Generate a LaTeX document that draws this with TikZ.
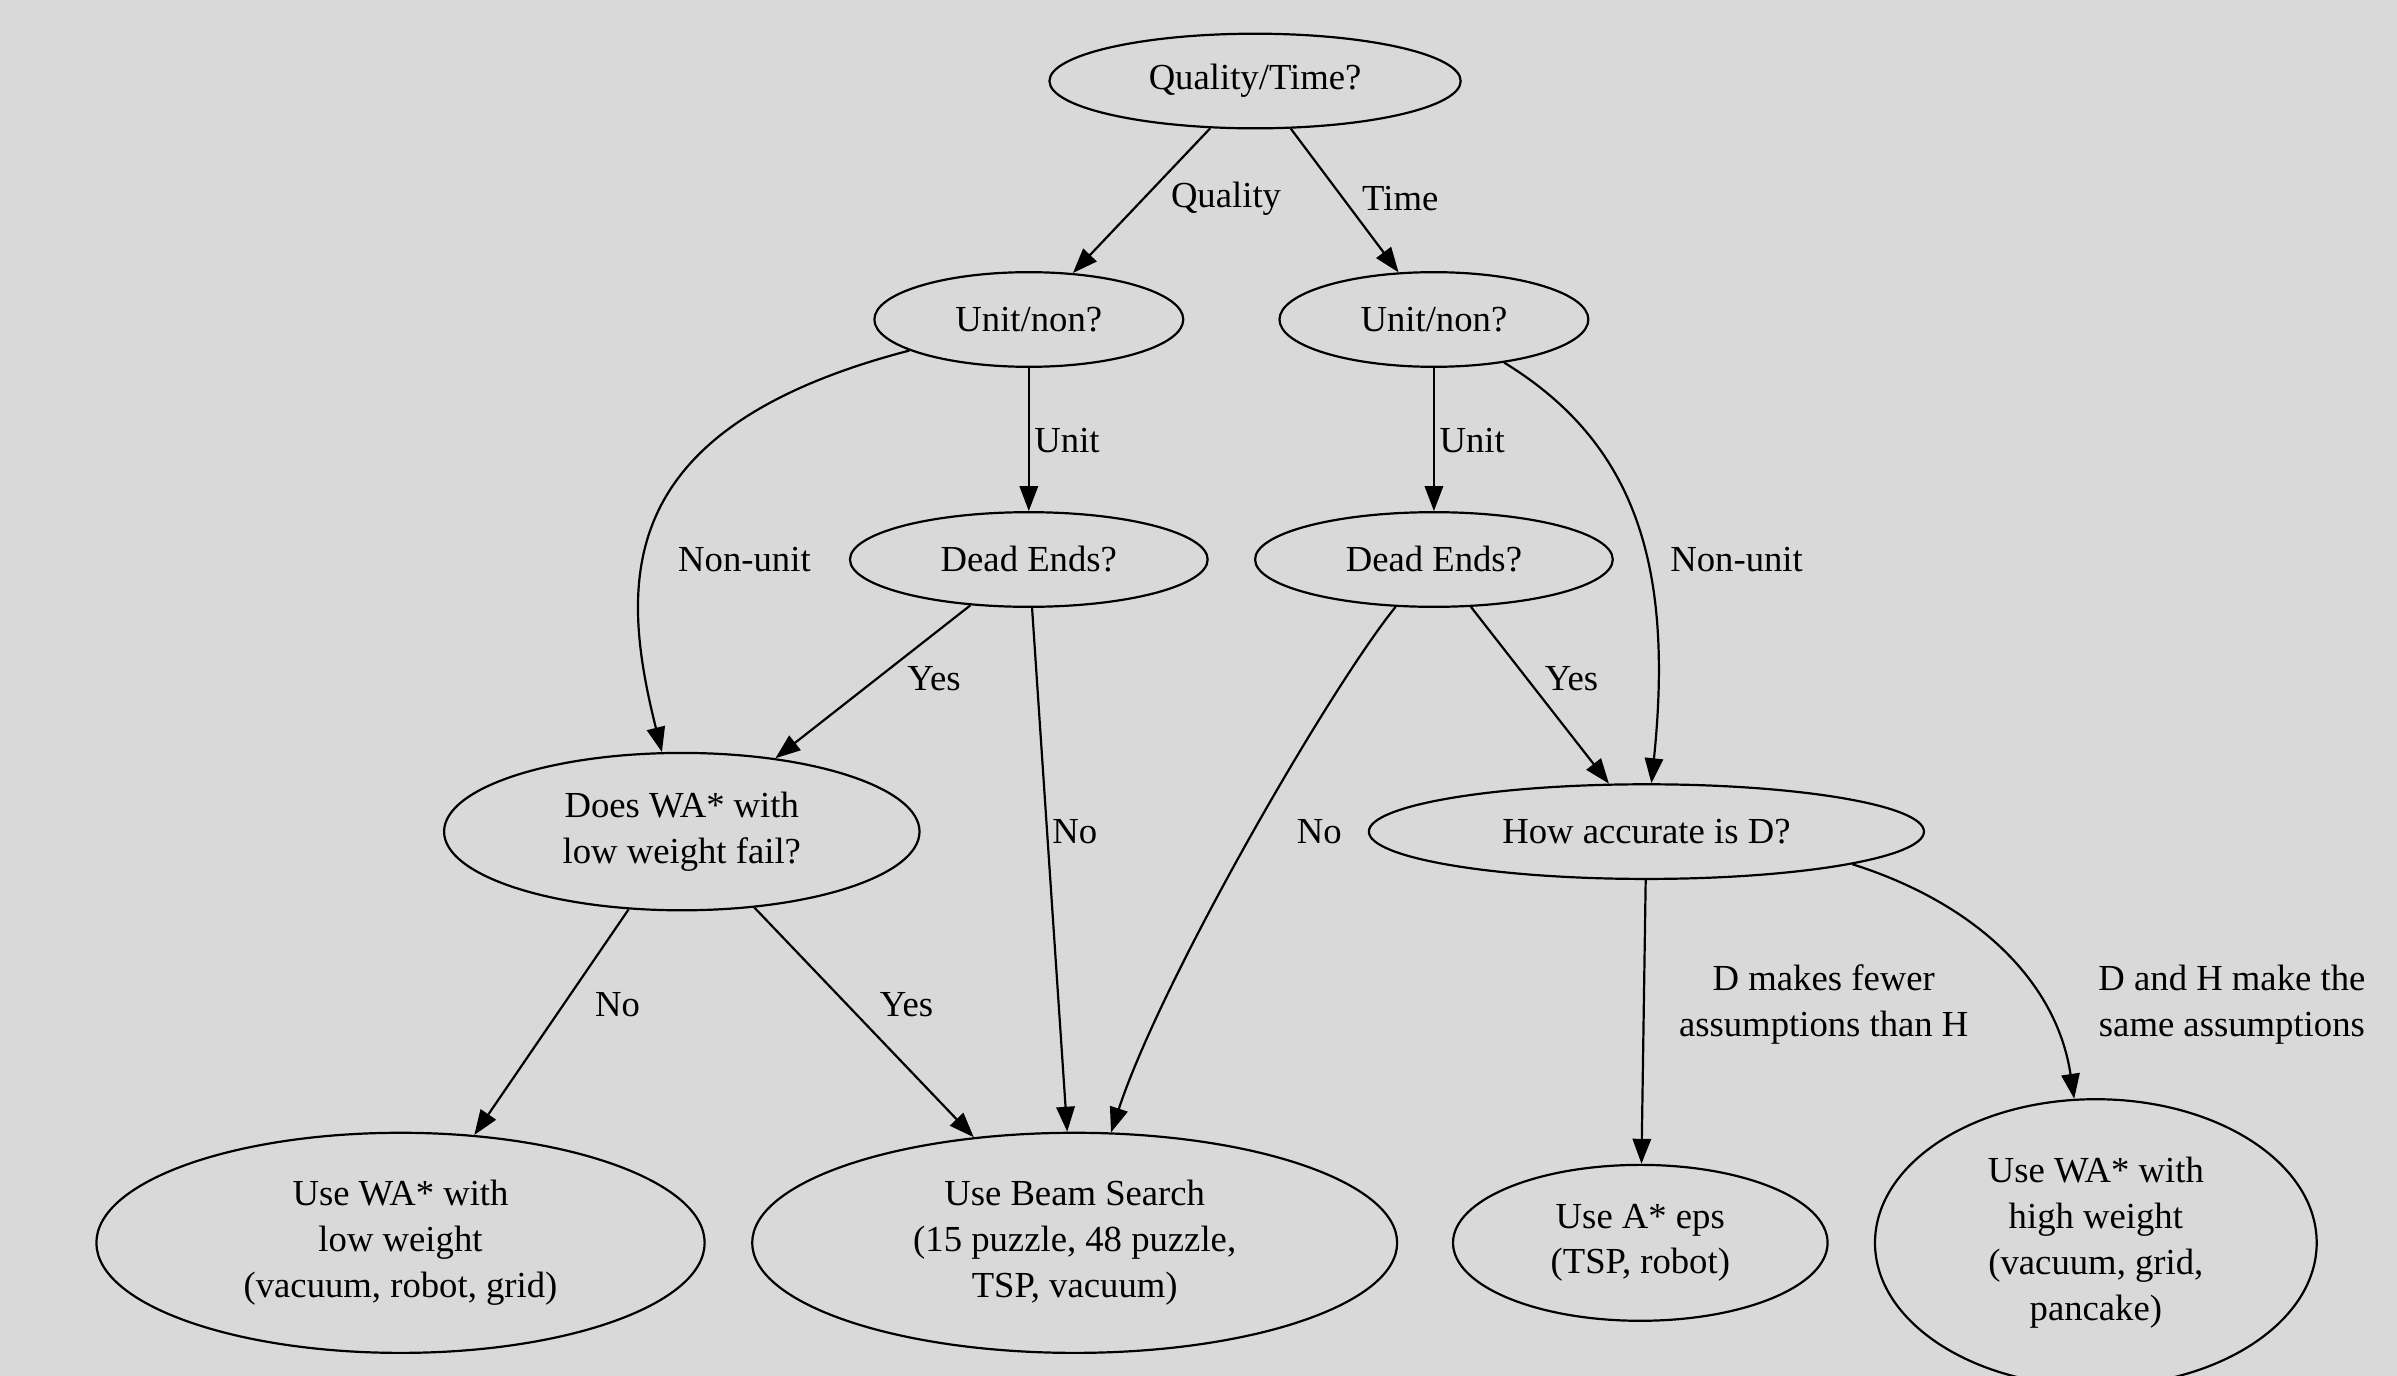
\documentclass[tikz,border=0pt]{standalone}
\usepackage{fontspec}
\setmainfont{Liberation Serif}
\usetikzlibrary{shapes.geometric,arrows.meta}
\definecolor{bgcol}{RGB}{217,217,217}
\tikzset{
	decision/.style={draw, ellipse, line width=0.6pt, inner sep=0pt, align=center, font=\fontsize{10}{12.5}\selectfont},
	link/.style={draw, line width=0.6pt, -{Triangle[length=6.8pt,width=5pt]}},
	lbl/.style={inner sep=0pt, align=center, font=\fontsize{10}{12.5}\selectfont},
}

\begin{document}
\begin{tikzpicture}[x=0.4167pt, y=-0.4167pt]
		%%%%% START %%%%%
		
		\fill[bgcol] (0, 0) rectangle (1568, 900);
		\useasboundingbox (0, 0) rectangle (1568, 900);
		
		\node[decision, minimum width=112.1pt, minimum height=25.8pt] (q) at (821, 53) {Quality/Time?};
		
		\node[decision, minimum width=84.2pt, minimum height=25.8pt] (ul) at (673, 209) {Unit/non?};
		\node[decision, minimum width=84.2pt, minimum height=25.8pt] (ur) at (938, 209) {Unit/non?};
		
		\node[decision, minimum width=97.5pt, minimum height=25.8pt] (dl) at (673, 366) {Dead Ends?};
		\node[decision, minimum width=97.5pt, minimum height=25.8pt] (dr) at (938, 366) {Dead Ends?};
		
		\node[decision, minimum width=129.6pt, minimum height=42.9pt] (wf) at (446, 544) {Does WA* with\\low weight fail?};
		\node[decision, minimum width=151.3pt, minimum height=25.8pt] (ha) at (1077, 544) {How accurate is D?};
		
		\node[decision, minimum width=165.8pt, minimum height=60pt] (wl) at (262, 813) {Use WA* with\\low weight\\(vacuum, robot, grid)};
		\node[decision, minimum width=175.8pt, minimum height=60pt] (bs) at (703, 813) {Use Beam Search\\(15 puzzle, 48 puzzle,\\TSP, vacuum)};
		\node[decision, minimum width=102.1pt, minimum height=42.5pt] (ae) at (1073, 813) {Use A* eps\\(TSP, robot)};
		\node[decision, minimum width=120.4pt, minimum height=78.3pt] (wh) at (1371, 813) {Use WA* with\\high weight\\(vacuum, grid,\\pancake)};
		
		% connectors
		\draw[link] (q) -- (ul);
		\draw[link] (q) -- (ur);
		\draw[link] (ul) -- (dl);
		\draw[link] (ul) .. controls (400, 280) and (405, 380) .. (wf);
		\draw[link] (ur) -- (dr);
		\draw[link] (ur) .. controls (1070, 290) and (1095, 370) .. (ha);
		\draw[link] (dl) -- (wf);
		\draw[link] (dl) -- (bs);
		\draw[link] (dr) .. controls (870, 450) and (760, 640) .. (bs);
		\draw[link] (dr) -- (ha);
		\draw[link] (wf) -- (wl);
		\draw[link] (wf) -- (bs);
		\draw[link] (ha) -- (ae);
		\draw[link] (ha.-9) .. controls (1290, 590) and (1345, 640) .. (wh);
		
		% labels
		\node[lbl] (lquality) at (802, 130) {Quality};
		\node[lbl] (ltime) at (916, 130) {Time};
		\node[lbl] (lunitl) at (698, 288) {Unit};
		\node[lbl] (lunitr) at (963, 288) {Unit};
		\node[lbl] (lnonunitl) at (487, 366) {Non-unit};
		\node[lbl] (lnonunitr) at (1136, 366) {Non-unit};
		\node[lbl] (lyesdl) at (611, 444) {Yes};
		\node[lbl] (lyesdr) at (1028, 444) {Yes};
		\node[lbl] (lnodl) at (703, 544) {No};
		\node[lbl] (lnodr) at (863, 544) {No};
		\node[lbl] (lnowf) at (404, 657) {No};
		\node[lbl] (lyeswf) at (593, 657) {Yes};
		\node[lbl] (lfewer) at (1193, 657) {D makes fewer\\assumptions than H};
		\node[lbl] (lsame) at (1460, 657) {D and H make the\\same assumptions};
		
		%%%%% END %%%%%
\end{tikzpicture}
\end{document}
